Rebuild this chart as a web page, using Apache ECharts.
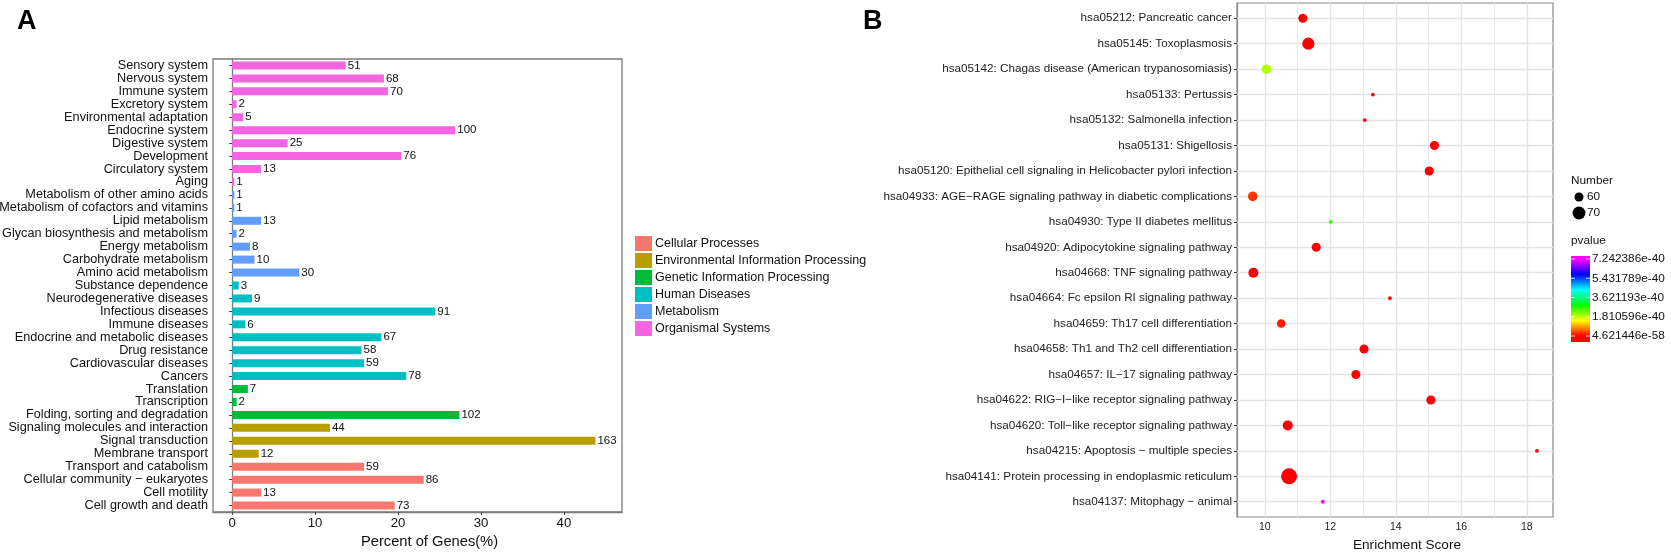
<!DOCTYPE html>
<html><head><meta charset="utf-8">
<script src="https://cdn.jsdelivr.net/npm/echarts@6/dist/echarts.min.js"></script>
<style>html,body{margin:0;padding:0;background:#fff}#c{width:1671px;height:552px}</style>
</head><body><div id="c"></div>
<script>
// ---------- Panel A data ----------
const groupNames = ['Cellular Processes','Environmental Information Processing','Genetic Information Processing','Human Diseases','Metabolism','Organismal Systems'];
const categoriesA = ['Sensory system','Nervous system','Immune system','Excretory system','Environmental adaptation','Endocrine system','Digestive system','Development','Circulatory system','Aging','Metabolism of other amino acids','Metabolism of cofactors and vitamins','Lipid metabolism','Glycan biosynthesis and metabolism','Energy metabolism','Carbohydrate metabolism','Amino acid metabolism','Substance dependence','Neurodegenerative diseases','Infectious diseases','Immune diseases','Endocrine and metabolic diseases','Drug resistance','Cardiovascular diseases','Cancers','Translation','Transcription','Folding, sorting and degradation','Signaling molecules and interaction','Signal transduction','Membrane transport','Transport and catabolism','Cellular community \u2212 eukaryotes','Cell motility','Cell growth and death'];
const groupA = [5,5,5,5,5,5,5,5,5,5,4,4,4,4,4,4,4,3,3,3,3,3,3,3,3,2,2,2,1,1,1,0,0,0,0];
const percentA = [13.7,18.3,18.8,0.54,1.34,26.9,6.7,20.4,3.5,0.27,0.27,0.27,3.5,0.54,2.15,2.7,8.1,0.8,2.4,24.5,1.6,18.0,15.6,15.9,21.0,1.9,0.54,27.4,11.8,43.8,3.2,15.9,23.1,3.5,19.6];
const countsA = [51,68,70,2,5,100,25,76,13,1,1,1,13,2,8,10,30,3,9,91,6,67,58,59,78,7,2,102,44,163,12,59,86,13,73];
const tickLabelsA = [0,10,20,30,40];

// ---------- Panel B data ----------
const pathwaysB = ['hsa05212: Pancreatic cancer','hsa05145: Toxoplasmosis','hsa05142: Chagas disease (American trypanosomiasis)','hsa05133: Pertussis','hsa05132: Salmonella infection','hsa05131: Shigellosis','hsa05120: Epithelial cell signaling in Helicobacter pylori infection','hsa04933: AGE\u2212RAGE signaling pathway in diabetic complications','hsa04930: Type II diabetes mellitus','hsa04920: Adipocytokine signaling pathway','hsa04668: TNF signaling pathway','hsa04664: Fc epsilon RI signaling pathway','hsa04659: Th17 cell differentiation','hsa04658: Th1 and Th2 cell differentiation','hsa04657: IL\u221217 signaling pathway','hsa04622: RIG\u2212I\u2212like receptor signaling pathway','hsa04620: Toll\u2212like receptor signaling pathway','hsa04215: Apoptosis \u2212 multiple species','hsa04141: Protein processing in endoplasmic reticulum','hsa04137: Mitophagy \u2212 animal'];
const enrichB = [11.16,11.33,10.05,13.30,13.05,15.18,15.02,9.63,12.01,11.57,9.65,13.82,10.50,13.03,12.78,15.07,10.70,18.31,10.74,11.77];
const numberB = [60,68,61,55,55,60,60,61,55,60,62,55,59,60,60,60,62,55,82,55];
const pvalueB = [3.1e-50,1.2e-55,1.88e-40,2.4e-45,6.7e-46,8.2e-52,5.5e-51,2.9e-41,2.6e-40,4.3e-49,1.1e-44,7.8e-47,1.4e-41,2.2e-53,9.6e-50,3.7e-52,1.6e-48,5.0e-44,4.621446e-58,7.242386e-40];
const tickLabelsB = [10,12,14,16,18];
const gridLinesB = [10,11,12,13,14,15,16,17,18];
const sizeLegendB = [60,70];
const pvalueTickValues = [4.621446e-58,1.810596e-40,3.621193e-40,5.431789e-40,7.242386e-40];
const pvalueTickLabels = ['4.621446e-58','1.810596e-40','3.621193e-40','5.431789e-40','7.242386e-40'];

// ---------- styles ----------
const groupColors = ['#F8766D','#B79F00','#00BA38','#00BFC4','#619CFF','#F564E3'];
const rainbow = ['#FF0000','#FFFF00','#00FF00','#00FFFF','#0000FF','#FF00FF'];
const FF = '"Liberation Sans",Arial,Helvetica,sans-serif';
const NMIN = 55, NMAX = 82, DMIN = 3.8, DMAX = 16;
function sizeFn(n){ const t = Math.max(0, Math.min(1, (n - NMIN) / (NMAX - NMIN))); return DMIN + (DMAX - DMIN) * Math.sqrt(t); }

const chart = echarts.init(document.getElementById('c'), null, {renderer:'canvas'});

const barSeries = groupNames.map((g, gi) => ({
  type:'bar', name:g, stack:'all', xAxisIndex:0, yAxisIndex:0, barWidth:8,
  itemStyle:{color:groupColors[gi]},
  data: percentA.map((v,i) => groupA[i] === gi ? v : '-'),
  label:{show:true, position:'right', distance:2, color:'#111', fontSize:11.5, fontFamily:FF,
    formatter: p => countsA[p.dataIndex]}
}));

// colorbar legend geometry
const cbX = 1571, cbTop = 256, cbH = 86, cbW = 19, cbDataTop = 259, cbDataBottom = 336;
const pMin = pvalueTickValues[0], pMax = pvalueTickValues[pvalueTickValues.length-1];
const offOf = t => ((cbDataBottom - t*(cbDataBottom-cbDataTop)) - cbTop) / cbH;
const gradStops = rainbow.map((c, k) => ({offset: Math.min(1, Math.max(0, offOf(k/(rainbow.length-1)))), color:c})).reverse();

const graphics = [
  {type:'text', left:1571, top:175, style:{text:'Number', fontSize:11.8, fontFamily:FF, fill:'#111'}},
  {type:'text', left:1571, top:235, style:{text:'pvalue', fontSize:11.8, fontFamily:FF, fill:'#111'}},
  {type:'rect', shape:{x:cbX, y:cbTop, width:cbW, height:cbH},
   style:{fill:new echarts.graphic.LinearGradient(0,0,0,1,gradStops)}}
];
sizeLegendB.forEach((n, k) => {
  const cy = 197 + k*16;
  graphics.push({type:'circle', shape:{cx:1579, cy:cy, r:sizeFn(n)/2}, style:{fill:'#000'}});
  graphics.push({type:'text', x:1587, y:cy, style:{text:String(n), fontSize:11.8, fontFamily:FF, fill:'#111', verticalAlign:'middle'}});
});
pvalueTickValues.forEach((v, k) => {
  const y = cbDataBottom - (v - pMin)/(pMax - pMin)*(cbDataBottom - cbDataTop);
  graphics.push({type:'line', shape:{x1:cbX, y1:y, x2:cbX+4, y2:y}, style:{stroke:'rgba(255,255,255,0.8)', lineWidth:1}});
  graphics.push({type:'line', shape:{x1:cbX+cbW-4, y1:y, x2:cbX+cbW, y2:y}, style:{stroke:'rgba(255,255,255,0.8)', lineWidth:1}});
  graphics.push({type:'text', x:cbX+cbW+2, y:y, style:{text:pvalueTickLabels[k], fontSize:11.8, fontFamily:FF, fill:'#111', verticalAlign:'middle'}});
});

const option = {
  animation:false,
  backgroundColor:'#fff',
  title:[
    {text:'A', left:17, top:8, padding:0, textStyle:{fontSize:27, fontWeight:'bold', fontFamily:FF, color:'#000'}},
    {text:'B', left:863, top:8, padding:0, textStyle:{fontSize:27, fontWeight:'bold', fontFamily:FF, color:'#000'}}
  ],
  legend:{
    data:groupNames, orient:'vertical', left:635, top:236, padding:0, itemGap:2,
    itemWidth:17, itemHeight:15, icon:'rect', selectedMode:false,
    textStyle:{fontSize:12.5, fontFamily:FF, color:'#111', padding:[0,0,0,-2]}
  },
  grid:[
    {left:213, top:59, width:409, height:453, show:true, borderColor:'#7a7a7a', borderWidth:1.3, backgroundColor:'#fff', outerBoundsMode:'none', containLabel:false},
    {left:1237, top:3, width:316, height:514, show:true, borderColor:'#888', borderWidth:1.2, backgroundColor:'#fff', outerBoundsMode:'none', containLabel:false}
  ],
  xAxis:[
    {type:'value', gridIndex:0, min:-2.3, max:47,
     axisLine:{show:true, lineStyle:{color:'#7a7a7a', width:1.3}},
     axisTick:{show:true, length:3, customValues:tickLabelsA, lineStyle:{color:'#444'}},
     axisLabel:{customValues:tickLabelsA, margin:5, fontSize:13.2, fontFamily:FF, color:'#111'},
     splitLine:{show:false},
     name:'Percent of Genes(%)', nameLocation:'middle', nameGap:20,
     nameTextStyle:{fontSize:14.7, fontFamily:FF, color:'#111', padding:[0,0,0,24]}},
    {type:'value', gridIndex:1, min:9.15, max:18.8,
     axisLine:{show:true, lineStyle:{color:'#888', width:1.2}},
     axisTick:{show:true, length:3, customValues:tickLabelsB, lineStyle:{color:'#333'}},
     axisLabel:{customValues:tickLabelsB, margin:5, fontSize:10.5, fontFamily:FF, color:'#222'},
     splitLine:{show:false},
     name:'Enrichment Score', nameLocation:'middle', nameGap:14,
     nameTextStyle:{fontSize:13.6, fontFamily:FF, color:'#111', padding:[0,0,0,24]}}
  ],
  yAxis:[
    {type:'category', gridIndex:0, data:categoriesA, inverse:true,
     axisLine:{show:true, lineStyle:{color:'#7a7a7a', width:1.3}},
     axisTick:{show:true, length:3, alignWithLabel:true, lineStyle:{color:'#444'}},
     axisLabel:{margin:5, fontSize:12.7, fontFamily:FF, color:'#111', interval:0},
     splitLine:{show:false}},
    {type:'value', gridIndex:1, min:-0.6, max:pathwaysB.length - 0.4, inverse:true,
     axisLine:{show:true, lineStyle:{color:'#888', width:1.2}},
     axisTick:{show:true, length:3, customValues:pathwaysB.map((_,i)=>i), lineStyle:{color:'#333'}},
     axisLabel:{customValues:pathwaysB.map((_,i)=>i), margin:5, fontSize:11.7, fontFamily:FF, color:'#222',
       formatter: v => pathwaysB[Math.round(v)] || ''},
     splitLine:{show:false}}
  ],
  visualMap:{type:'continuous', show:false, seriesIndex:barSeries.length, dimension:3,
    min:pMin, max:pMax, inRange:{color:rainbow}},
  series:[...barSeries, {
    type:'scatter', xAxisIndex:1, yAxisIndex:1, z:3,
    data: pathwaysB.map((_,i) => [enrichB[i], i, numberB[i], pvalueB[i]]),
    symbolSize: v => sizeFn(v[2]),
    itemStyle:{opacity:1},
    markLine:{silent:true, symbol:'none', z:1, animation:false, label:{show:false},
      lineStyle:{color:'#E4E4E4', type:'solid', width:1.1},
      data:[
        ...gridLinesB.map(x => ({xAxis:x, lineStyle:{color:'#E4E4E4', type:'solid', width: (x % 2 === 0) ? 1.3 : 0.8}})),
        ...pathwaysB.map((_,i) => ({yAxis:i, lineStyle:{color:'#E4E4E4', type:'solid', width:1.3}}))
      ]}
  }],
  graphic:graphics
};
chart.setOption(option);
</script></body></html>
